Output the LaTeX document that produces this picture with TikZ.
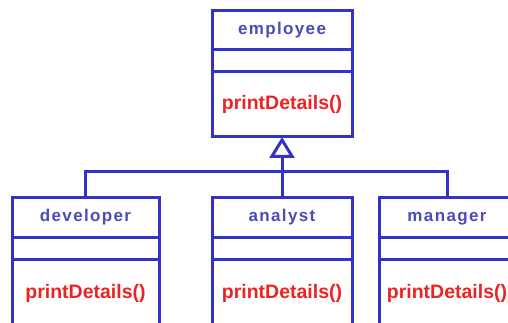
\documentclass[tikz,border=0pt]{standalone}
\usepackage{fontspec}
\setmainfont{Liberation Sans}
\usetikzlibrary{positioning,arrows.meta}
\definecolor{umlblue}{RGB}{50,50,200}
\definecolor{nameblue}{RGB}{75,75,185}
\definecolor{methred}{RGB}{235,35,35}

\begin{document}
\begin{tikzpicture}[x=1pt, y=1pt,
    box/.style={rectangle, draw=umlblue, line width=3pt, inner sep=0pt, outer sep=0pt},
    cname/.style={box, minimum height=40pt, text=nameblue, text height=12pt, text depth=4pt,
        font=\fontsize{17}{19}\selectfont\bfseries\addfontfeature{LetterSpace=8}},
    cattr/.style={box, minimum height=22pt},
    cmeth/.style={box, minimum height=68pt, text=methred, font=\fontsize{19.5}{22}\selectfont\bfseries},
    uml/.style={draw=umlblue, line width=3pt}]
    \useasboundingbox (0,0) rectangle (508,-323);
    \clip (0,0) rectangle (508,-323);

    % Superclass
    \node[cname, minimum width=140pt, minimum height=39pt] (emp) at (282,-30.5) {employee};
    \node[cattr, minimum width=140pt, below=0pt of emp] (emp-a) {};
    \node[cmeth, minimum width=140pt, minimum height=65pt, below=0pt of emp-a] (emp-m) {printDetails()};

    % Subclasses
    \node[cname, minimum width=147pt] (dev) at (85.5,-217) {developer};
    \node[cattr, minimum width=147pt, below=0pt of dev] (dev-a) {};
    \node[cmeth, minimum width=147pt, below=0pt of dev-a] (dev-m) {printDetails()};

    \node[cname, minimum width=140pt] (ana) at (282,-217) {analyst};
    \node[cattr, minimum width=140pt, below=0pt of ana] (ana-a) {};
    \node[cmeth, minimum width=140pt, below=0pt of ana-a] (ana-m) {printDetails()};

    \node[cname, minimum width=136pt] (man) at (447,-217) {manager};
    \node[cattr, minimum width=136pt, below=0pt of man] (man-a) {};
    \node[cmeth, minimum width=136pt, below=0pt of man-a] (man-m) {printDetails()};

    % Generalization
    \coordinate (bus) at (emp-m.south |- 0,-172);
    \draw[uml] (dev.north) |- (bus) -| (man.north);
    \draw[uml] (ana.north) -- (ana.north |- bus);
    \draw[uml, -{Triangle[open, length=21pt, width=25pt]}] (bus) -- (emp-m.south);
\end{tikzpicture}
\end{document}
